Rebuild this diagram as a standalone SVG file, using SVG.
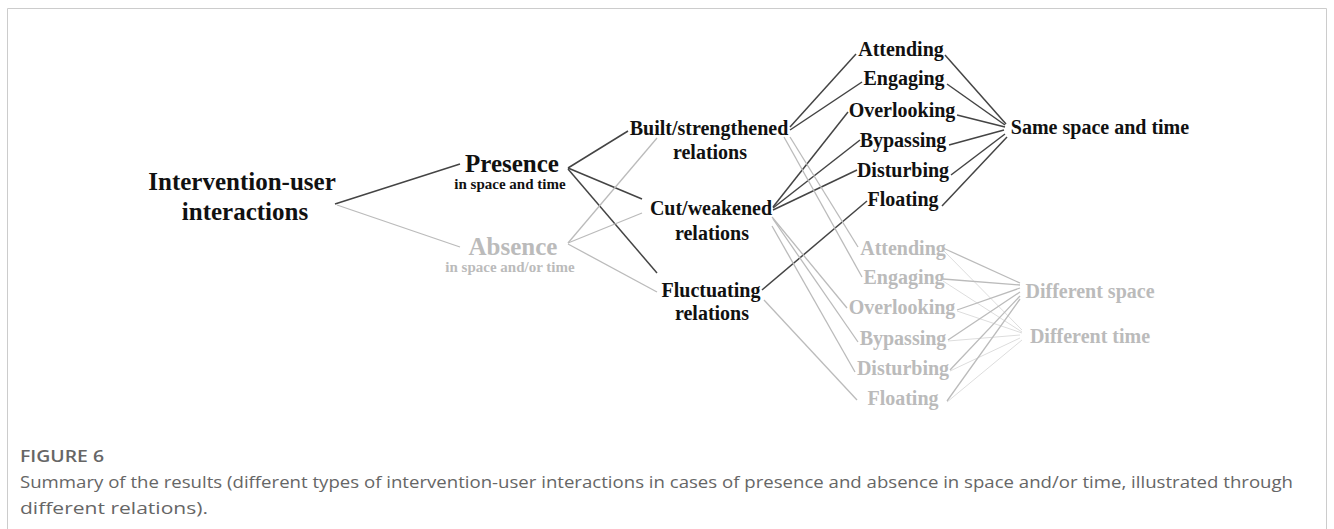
<svg xmlns="http://www.w3.org/2000/svg" width="1334" height="529" viewBox="0 0 1334 529">
<style>
.t{font-family:"Liberation Serif","Times New Roman",serif;font-weight:bold;text-anchor:middle}
.dk{fill:#111}
.gy{fill:#bbb}
.xl{font-size:25px}
.lg{font-size:20px}
.sm{font-size:15px}
.ld{stroke:#444;stroke-width:1.5;fill:none}
.lg2{stroke:#bbb;stroke-width:1.3;fill:none}
.ll{stroke:#ddd;stroke-width:1;fill:none}
.cap{font-family:"Open Sans","Noto Sans",sans-serif;fill:#666}
</style>
<rect x="0" y="0" width="1334" height="529" fill="#fff"/>
<path d="M7.5 529 V8.5 H1326.5 V529" stroke="#ccc" stroke-width="1" fill="none"/>
<g id="connectors">
  <line class="ld" x1="335" y1="204" x2="460" y2="164"/>
  <line class="lg2" x1="337" y1="205" x2="460" y2="247"/>
  <line class="ld" x1="568" y1="168" x2="628" y2="131"/>
  <line class="ld" x1="568" y1="168" x2="642" y2="199"/>
  <line class="ld" x1="568" y1="169" x2="657" y2="273"/>
  <line class="lg2" x1="568" y1="243" x2="657" y2="138"/>
  <line class="lg2" x1="568" y1="243" x2="642" y2="213"/>
  <line class="lg2" x1="568" y1="244" x2="657" y2="292"/>
  <line class="ld" x1="790" y1="127" x2="856" y2="54"/>
  <line class="ld" x1="790" y1="130" x2="862" y2="82"/>
  <line class="ld" x1="773" y1="207" x2="848" y2="112"/>
  <line class="ld" x1="773" y1="208" x2="860" y2="140"/>
  <line class="ld" x1="773" y1="210" x2="857" y2="170"/>
  <line class="ld" x1="762" y1="290" x2="867" y2="201"/>
  <line class="ld" x1="945" y1="55" x2="1006" y2="124"/>
  <line class="ld" x1="947" y1="84" x2="1005" y2="125"/>
  <line class="ld" x1="957" y1="115" x2="1005" y2="127"/>
  <line class="ld" x1="949" y1="145" x2="1004" y2="130"/>
  <line class="ld" x1="951" y1="175" x2="1005" y2="134"/>
  <line class="ld" x1="942" y1="206" x2="1007" y2="137"/>
  <line class="lg2" x1="790" y1="137" x2="858" y2="247"/>
  <line class="lg2" x1="784" y1="137" x2="862" y2="277"/>
  <line class="lg2" x1="772" y1="217" x2="847" y2="308"/>
  <line class="lg2" x1="773" y1="219" x2="858" y2="342"/>
  <line class="lg2" x1="772" y1="226" x2="855" y2="372"/>
  <line class="lg2" x1="764" y1="300" x2="857" y2="400"/>
  <line class="ll" x1="943" y1="250" x2="1022" y2="330"/>
  <line class="ll" x1="943" y1="281" x2="1022" y2="332"/>
  <line class="ll" x1="957" y1="311" x2="1022" y2="333"/>
  <line class="ll" x1="948" y1="341" x2="1020" y2="335"/>
  <line class="ll" x1="950" y1="371" x2="1020" y2="338"/>
  <line class="ll" x1="947" y1="402" x2="1022" y2="340"/>
  <line class="lg2" x1="943" y1="248" x2="1020" y2="283"/>
  <line class="lg2" x1="943" y1="279" x2="1020" y2="285"/>
  <line class="lg2" x1="957" y1="310" x2="1020" y2="288"/>
  <line class="lg2" x1="948" y1="340" x2="1020" y2="292"/>
  <line class="lg2" x1="950" y1="370" x2="1020" y2="296"/>
  <line class="lg2" x1="947" y1="401" x2="1020" y2="299"/>
</g>
<g id="root"><text class="t dk xl" x="242" y="190">Intervention-user</text><text class="t dk xl" x="245" y="220">interactions</text></g>
<g id="presence"><text class="t dk xl" x="512" y="172">Presence</text><text class="t dk sm" x="510" y="189">in space and time</text></g>
<g id="absence"><text class="t gy xl" x="513" y="255">Absence</text><text class="t gy sm" x="510" y="272">in space and/or time</text></g>
<g id="built"><text class="t dk lg" x="709" y="135">Built/strengthened</text><text class="t dk lg" x="710" y="159">relations</text></g>
<g id="cut"><text class="t dk lg" x="711" y="215">Cut/weakened</text><text class="t dk lg" x="712" y="240">relations</text></g>
<g id="fluctuating"><text class="t dk lg" x="711" y="297">Fluctuating</text><text class="t dk lg" x="712" y="320">relations</text></g>
<g id="attending1"><text class="t dk lg" x="901" y="56">Attending</text></g>
<g id="engaging1"><text class="t dk lg" x="904" y="85">Engaging</text></g>
<g id="overlooking1"><text class="t dk lg" x="902" y="117">Overlooking</text></g>
<g id="bypassing1"><text class="t dk lg" x="903" y="147">Bypassing</text></g>
<g id="disturbing1"><text class="t dk lg" x="903" y="177">Disturbing</text></g>
<g id="floating1"><text class="t dk lg" x="903" y="206">Floating</text></g>
<g id="same"><text class="t dk lg" x="1100" y="134">Same space and time</text></g>
<g id="attending2"><text class="t gy lg" x="903" y="255">Attending</text></g>
<g id="engaging2"><text class="t gy lg" x="904" y="284">Engaging</text></g>
<g id="overlooking2"><text class="t gy lg" x="902" y="314">Overlooking</text></g>
<g id="bypassing2"><text class="t gy lg" x="903" y="345">Bypassing</text></g>
<g id="disturbing2"><text class="t gy lg" x="903" y="375">Disturbing</text></g>
<g id="floating2"><text class="t gy lg" x="903" y="405">Floating</text></g>
<g id="diffspace"><text class="t gy lg" x="1090" y="298">Different space</text></g>
<g id="difftime"><text class="t gy lg" x="1090" y="343">Different time</text></g>
<text class="cap" x="20" y="462" font-size="17" font-weight="600" textLength="84" lengthAdjust="spacingAndGlyphs" fill="#444">FIGURE 6</text>
<text class="cap" x="20" y="488" font-size="17" textLength="1273" lengthAdjust="spacingAndGlyphs">Summary of the results (different types of intervention-user interactions in cases of presence and absence in space and/or time, illustrated through</text>
<text class="cap" x="20" y="514" font-size="17" textLength="188" lengthAdjust="spacingAndGlyphs">different relations).</text>
</svg>
